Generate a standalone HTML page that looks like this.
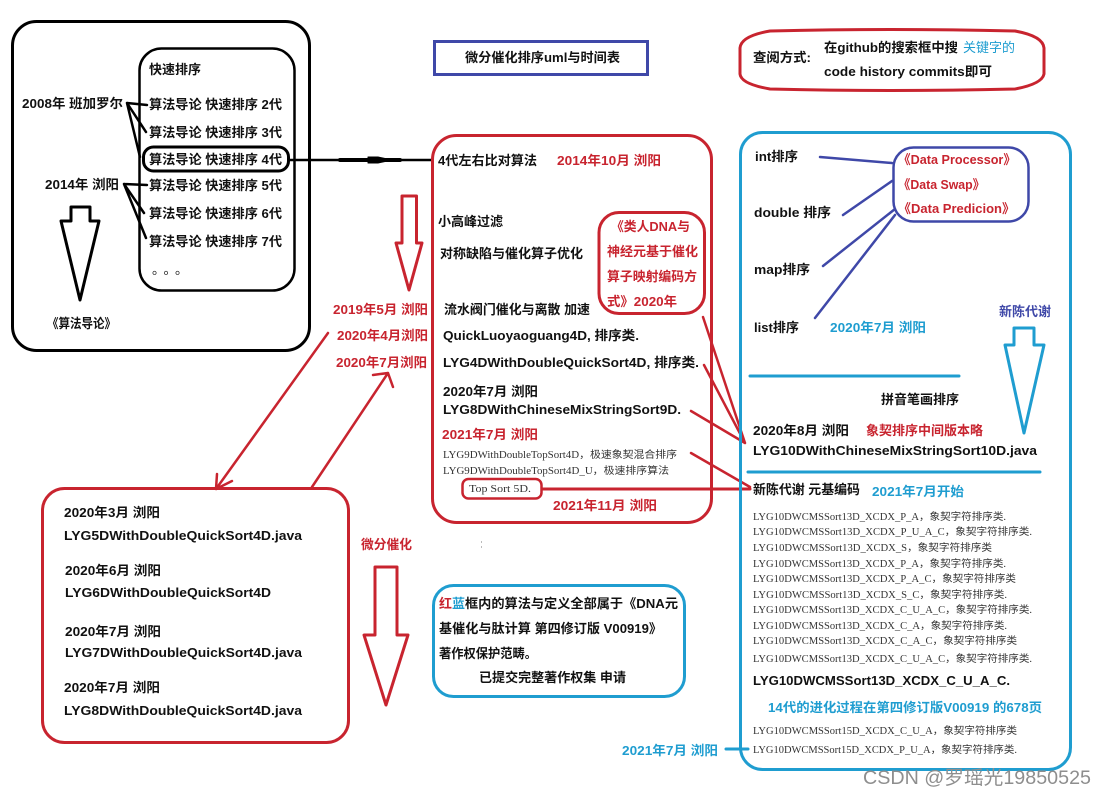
<!DOCTYPE html>
<html><head><meta charset="utf-8"><style>
html,body{margin:0;padding:0;background:#fff}
svg{display:block}
text{font-family:"Liberation Sans","Noto Sans CJK SC",sans-serif;font-weight:bold;font-size:13px;fill:#111}
.r{fill:#c8242f}.c{fill:#1f9dd0}.i{fill:#3f48a8}
.s{font-family:"Liberation Serif","Noto Sans CJK SC",serif;font-weight:normal;font-size:10px;fill:#333}
.w{font-weight:normal;font-size:19px;fill:#8e8e8e}
.k,.kr,.kc,.ki{fill:none;stroke-linecap:round;stroke-linejoin:round}
.k{stroke:#000}.kr{stroke:#c8242f}.kc{stroke:#1f9dd0}.ki{stroke:#3f48a8}
</style></head><body>
<svg xmlns="http://www.w3.org/2000/svg" width="1106" height="795" viewBox="0 0 1106 795">
<rect width="1106" height="795" fill="#fff"/>

<!-- black group -->
<g class="k">
<rect x="12.5" y="21.5" width="297" height="329" rx="24" stroke-width="3"/>
<rect x="139.5" y="48.5" width="155" height="242" rx="22" stroke-width="2.5"/>
<rect x="143.5" y="147" width="145" height="24" rx="10" stroke-width="3"/>
<path d="M127 103 L147 105 M127 103 L146 132 M127 103 L140 157 M124 184 L147 185 M124 184 L144 213 M124 184 L146 238" stroke-width="2.5"/>
<path d="M289 160 L432 160" stroke-width="2.5"/>
<path d="M340 160 L400 160" stroke-width="4"/>
<path d="M368 157 L378 157 L392 160 L378 163 L368 163 Z" fill="#000" stroke-width="1"/>
<path d="M71 207 L90 207 L90 221 L99 221 L80 300 L61 221 L71 221 Z" fill="#fff" stroke-width="3"/>
</g>
<text x="149" y="74" textLength="52" lengthAdjust="spacingAndGlyphs">快速排序</text>
<text x="149" y="109" textLength="133" lengthAdjust="spacingAndGlyphs">算法导论 快速排序 2代</text>
<text x="149" y="137" textLength="133" lengthAdjust="spacingAndGlyphs">算法导论 快速排序 3代</text>
<text x="149" y="164" textLength="133" lengthAdjust="spacingAndGlyphs">算法导论 快速排序 4代</text>
<text x="149" y="190" textLength="133" lengthAdjust="spacingAndGlyphs">算法导论 快速排序 5代</text>
<text x="149" y="218" textLength="133" lengthAdjust="spacingAndGlyphs">算法导论 快速排序 6代</text>
<text x="149" y="246" textLength="133" lengthAdjust="spacingAndGlyphs">算法导论 快速排序 7代</text>
<text x="152" y="274" textLength="36" lengthAdjust="spacing" style="font-weight:normal">。。。</text>
<text x="22" y="108" textLength="101" lengthAdjust="spacingAndGlyphs">2008年 班加罗尔</text>
<text x="45" y="189" textLength="74" lengthAdjust="spacingAndGlyphs">2014年 浏阳</text>
<text x="47" y="328" textLength="69" lengthAdjust="spacingAndGlyphs">《算法导论》</text>

<!-- title -->
<rect x="434.5" y="41.5" width="213" height="33" fill="none" stroke="#3f48a8" stroke-width="3"/>
<text x="465" y="62" textLength="155" lengthAdjust="spacingAndGlyphs">微分催化排序uml与时间表</text>

<!-- lookup -->
<path class="kr" stroke-width="3" d="M770 31 Q890 28 1015 31 Q1043 36 1044 48 L1044 74 Q1042 84 1015 89 Q890 92 770 89 Q741 84 740 74 L740 48 Q741 36 770 31 Z"/>
<text x="753" y="62" textLength="58" lengthAdjust="spacingAndGlyphs">查阅方式:</text>
<text x="824" y="52" textLength="134" lengthAdjust="spacingAndGlyphs">在github的搜索框中搜</text>
<text x="963" y="52" textLength="52" lengthAdjust="spacingAndGlyphs" class="c" style="font-weight:normal">关键字的</text>
<text x="824" y="76" textLength="168" lengthAdjust="spacingAndGlyphs">code history commits即可</text>

<!-- middle red group -->
<g class="kr">
<rect x="432.5" y="135.5" width="279" height="387" rx="24" stroke-width="3"/>
<rect x="599" y="212.5" width="105.5" height="101" rx="20" stroke-width="3"/>
<rect x="462.5" y="479" width="79" height="19.5" rx="6" stroke-width="2.5"/>
<path d="M402 196 L416.5 196 L416.5 243 L422 243 L409 290 L396 243 L402 243 Z" fill="#fff" stroke-width="3"/>
<path d="M703 317 L745 443 M704 365 L745 443 M691 411 L745 443 M691 453 L750 487" stroke-width="2.5"/>
<path d="M542 489 L750 489" stroke-width="3"/>
<path d="M328 333 L216 489 M216 489 L217 474 M216 489 L232 481" stroke-width="2.5"/>
<path d="M312 487 L388 373 M388 373 L373 375 M388 373 L393 387" stroke-width="2.5"/>
<rect x="42.5" y="488.5" width="306" height="254" rx="22" stroke-width="3"/>
<path d="M375 567 L397 567 L397 635 L408 635 L386 705 L364 635 L375 635 Z" fill="#fff" stroke-width="3"/>
</g>
<text x="438" y="165" textLength="99" lengthAdjust="spacingAndGlyphs">4代左右比对算法</text>
<text x="557" y="165" textLength="104" lengthAdjust="spacingAndGlyphs" class="r">2014年10月 浏阳</text>
<text x="438" y="226" textLength="65" lengthAdjust="spacingAndGlyphs">小高峰过滤</text>
<text x="440" y="258" textLength="143" lengthAdjust="spacingAndGlyphs">对称缺陷与催化算子优化</text>
<text x="611" y="231" textLength="79" lengthAdjust="spacingAndGlyphs" class="r">《类人DNA与</text>
<text x="607" y="256" textLength="91" lengthAdjust="spacingAndGlyphs" class="r">神经元基于催化</text>
<text x="607" y="281" textLength="90" lengthAdjust="spacingAndGlyphs" class="r">算子映射编码方</text>
<text x="607" y="306" textLength="70" lengthAdjust="spacingAndGlyphs" class="r">式》2020年</text>
<text x="444" y="314" textLength="146" lengthAdjust="spacingAndGlyphs">流水阀门催化与离散 加速</text>
<text x="443" y="340" textLength="196" lengthAdjust="spacingAndGlyphs">QuickLuoyaoguang4D, 排序类.</text>
<text x="443" y="367" textLength="256" lengthAdjust="spacingAndGlyphs">LYG4DWithDoubleQuickSort4D, 排序类.</text>
<text x="443" y="396" textLength="95" lengthAdjust="spacingAndGlyphs">2020年7月 浏阳</text>
<text x="443" y="414" textLength="238" lengthAdjust="spacingAndGlyphs">LYG8DWithChineseMixStringSort9D.</text>
<text x="442" y="439" textLength="96" lengthAdjust="spacingAndGlyphs" class="r">2021年7月 浏阳</text>
<text x="443" y="458" textLength="234" lengthAdjust="spacingAndGlyphs" class="s">LYG9DWithDoubleTopSort4D，极速象契混合排序</text>
<text x="443" y="474" textLength="226" lengthAdjust="spacingAndGlyphs" class="s">LYG9DWithDoubleTopSort4D_U，极速排序算法</text>
<text x="469" y="492" textLength="62" lengthAdjust="spacingAndGlyphs" class="s">Top Sort 5D.</text>
<text x="553" y="510" textLength="104" lengthAdjust="spacingAndGlyphs" class="r">2021年11月 浏阳</text>
<text x="333" y="314" textLength="95" lengthAdjust="spacingAndGlyphs" class="r">2019年5月 浏阳</text>
<text x="337" y="340" textLength="91" lengthAdjust="spacingAndGlyphs" class="r">2020年4月浏阳</text>
<text x="336" y="367" textLength="91" lengthAdjust="spacingAndGlyphs" class="r">2020年7月浏阳</text>

<!-- bottom left -->
<text x="64" y="517" textLength="96" lengthAdjust="spacingAndGlyphs">2020年3月 浏阳</text>
<text x="64" y="540" textLength="238" lengthAdjust="spacingAndGlyphs">LYG5DWithDoubleQuickSort4D.java</text>
<text x="65" y="575" textLength="96" lengthAdjust="spacingAndGlyphs">2020年6月 浏阳</text>
<text x="65" y="597" textLength="206" lengthAdjust="spacingAndGlyphs">LYG6DWithDoubleQuickSort4D</text>
<text x="65" y="636" textLength="96" lengthAdjust="spacingAndGlyphs">2020年7月 浏阳</text>
<text x="65" y="657" textLength="237" lengthAdjust="spacingAndGlyphs">LYG7DWithDoubleQuickSort4D.java</text>
<text x="64" y="692" textLength="96" lengthAdjust="spacingAndGlyphs">2020年7月 浏阳</text>
<text x="64" y="715" textLength="238" lengthAdjust="spacingAndGlyphs">LYG8DWithDoubleQuickSort4D.java</text>
<text x="361" y="549" textLength="51" lengthAdjust="spacingAndGlyphs" class="r">微分催化</text>
<rect x="481" y="541" width="1" height="2" fill="#bbb"/>
<rect x="481" y="546" width="1" height="2" fill="#bbb"/>

<!-- bottom note -->
<rect class="kc" x="433.5" y="585.5" width="251" height="111" rx="20" stroke-width="3"/>
<text x="439" y="608" textLength="13" lengthAdjust="spacingAndGlyphs" class="r">红</text>
<text x="452" y="608" textLength="13" lengthAdjust="spacingAndGlyphs" class="c">蓝</text>
<text x="465" y="608" textLength="213" lengthAdjust="spacingAndGlyphs">框内的算法与定义全部属于《DNA元</text>
<text x="439" y="633" textLength="223" lengthAdjust="spacingAndGlyphs">基催化与肽计算 第四修订版 V00919》</text>
<text x="439" y="658" textLength="98" lengthAdjust="spacingAndGlyphs">著作权保护范畴。</text>
<text x="479" y="682" textLength="147" lengthAdjust="spacingAndGlyphs">已提交完整著作权集 申请</text>

<!-- right group -->
<rect class="kc" x="740.5" y="132.5" width="330" height="637" rx="22" stroke-width="3"/>
<rect class="ki" x="893.5" y="147.5" width="135" height="74" rx="20" stroke-width="2.5"/>
<path class="ki" stroke-width="2.5" d="M820 157 L892 163 M843 215 L892 181 M823 266 L895 209 M815 318 L895 215"/>
<path class="kc" stroke-width="3" d="M750 376 L959 376 M748 472 L1040 472 M726 749 L748 749"/>
<path class="kc" stroke-width="3" d="M1014 328 L1034 328 L1034 345 L1044 345 L1024 433 L1005 345 L1014 345 Z" fill="#fff"/>
<text x="755" y="161" textLength="43" lengthAdjust="spacingAndGlyphs">int排序</text>
<text x="754" y="217" textLength="77" lengthAdjust="spacingAndGlyphs">double 排序</text>
<text x="754" y="274" textLength="56" lengthAdjust="spacingAndGlyphs">map排序</text>
<text x="754" y="332" textLength="45" lengthAdjust="spacingAndGlyphs">list排序</text>
<text x="830" y="332" textLength="96" lengthAdjust="spacingAndGlyphs" class="c">2020年7月 浏阳</text>
<text x="898" y="164" textLength="118" lengthAdjust="spacingAndGlyphs" class="r">《Data Processor》</text>
<text x="898" y="189" textLength="87" lengthAdjust="spacingAndGlyphs" class="r">《Data Swap》</text>
<text x="898" y="213" textLength="117" lengthAdjust="spacingAndGlyphs" class="r">《Data Predicion》</text>
<text x="999" y="316" textLength="52" lengthAdjust="spacingAndGlyphs" class="i">新陈代谢</text>
<text x="881" y="404" textLength="78" lengthAdjust="spacingAndGlyphs">拼音笔画排序</text>
<text x="753" y="435" textLength="96" lengthAdjust="spacingAndGlyphs">2020年8月 浏阳</text>
<text x="866" y="435" textLength="117" lengthAdjust="spacingAndGlyphs" class="r">象契排序中间版本略</text>
<text x="753" y="455" textLength="284" lengthAdjust="spacingAndGlyphs">LYG10DWithChineseMixStringSort10D.java</text>
<text x="753" y="494" textLength="107" lengthAdjust="spacingAndGlyphs">新陈代谢 元基编码</text>
<text x="872" y="496" textLength="92" lengthAdjust="spacingAndGlyphs" class="c">2021年7月开始</text>
<text x="753" y="520" textLength="253" lengthAdjust="spacingAndGlyphs" class="s">LYG10DWCMSSort13D_XCDX_P_A，象契字符排序类.</text>
<text x="753" y="535" textLength="279" lengthAdjust="spacingAndGlyphs" class="s">LYG10DWCMSSort13D_XCDX_P_U_A_C，象契字符排序类.</text>
<text x="753" y="551" textLength="239" lengthAdjust="spacingAndGlyphs" class="s">LYG10DWCMSSort13D_XCDX_S，象契字符排序类</text>
<text x="753" y="567" textLength="253" lengthAdjust="spacingAndGlyphs" class="s">LYG10DWCMSSort13D_XCDX_P_A，象契字符排序类.</text>
<text x="753" y="582" textLength="263" lengthAdjust="spacingAndGlyphs" class="s">LYG10DWCMSSort13D_XCDX_P_A_C，象契字符排序类</text>
<text x="753" y="598" textLength="254" lengthAdjust="spacingAndGlyphs" class="s">LYG10DWCMSSort13D_XCDX_S_C，象契字符排序类.</text>
<text x="753" y="613" textLength="279" lengthAdjust="spacingAndGlyphs" class="s">LYG10DWCMSSort13D_XCDX_C_U_A_C，象契字符排序类.</text>
<text x="753" y="629" textLength="254" lengthAdjust="spacingAndGlyphs" class="s">LYG10DWCMSSort13D_XCDX_C_A，象契字符排序类.</text>
<text x="753" y="644" textLength="264" lengthAdjust="spacingAndGlyphs" class="s">LYG10DWCMSSort13D_XCDX_C_A_C，象契字符排序类</text>
<text x="753" y="662" textLength="279" lengthAdjust="spacingAndGlyphs" class="s">LYG10DWCMSSort13D_XCDX_C_U_A_C，象契字符排序类.</text>
<text x="753" y="685" textLength="257" lengthAdjust="spacingAndGlyphs">LYG10DWCMSSort13D_XCDX_C_U_A_C.</text>
<text x="768" y="712" textLength="274" lengthAdjust="spacingAndGlyphs" class="c">14代的进化过程在第四修订版V00919 的678页</text>
<text x="753" y="734" textLength="264" lengthAdjust="spacingAndGlyphs" class="s">LYG10DWCMSSort15D_XCDX_C_U_A，象契字符排序类</text>
<text x="753" y="753" textLength="264" lengthAdjust="spacingAndGlyphs" class="s">LYG10DWCMSSort15D_XCDX_P_U_A，象契字符排序类.</text>
<text x="622" y="755" textLength="96" lengthAdjust="spacingAndGlyphs" class="c">2021年7月 浏阳</text>
<text x="863" y="784" textLength="228" lengthAdjust="spacingAndGlyphs" class="w">CSDN @罗瑶光19850525</text>
</svg>
</body></html>
